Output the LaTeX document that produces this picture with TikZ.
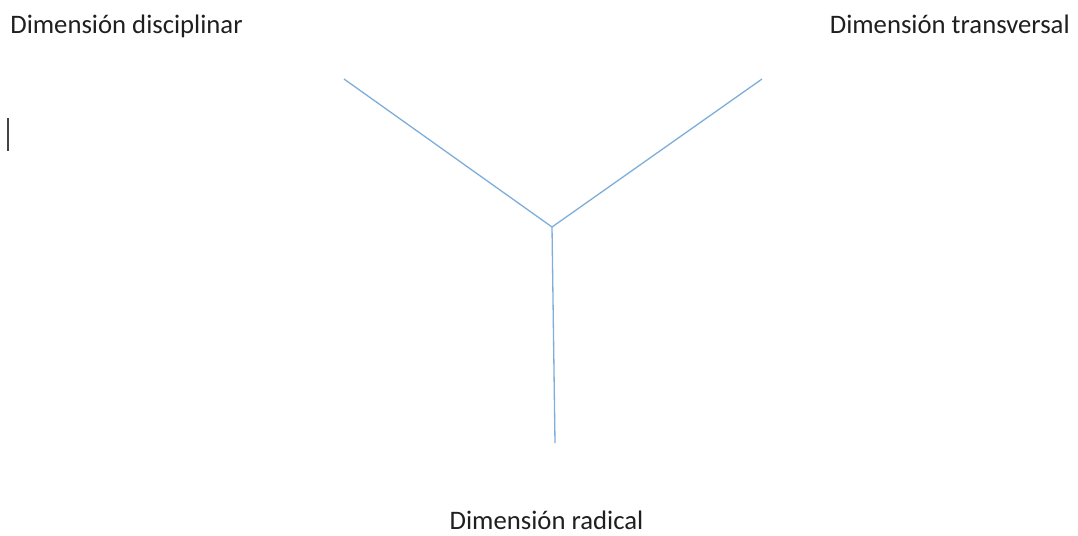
\documentclass[tikz,border=0pt]{standalone}
\usepackage{fontspec}
\setmainfont{Carlito}
\usetikzlibrary{positioning}
\definecolor{ink}    {HTML}{1F1F1F}
\definecolor{branch} {HTML}{7FAEDB}
\definecolor{caret}  {HTML}{444444}
\tikzset{
  dimlabel/.style={
    inner sep=0pt, text=ink, font=\fontsize{15.2}{18}\selectfont
  },
  dimline/.style={
    draw=branch, line width=0.75pt
  }
}

\begin{document}
\begin{tikzpicture}[x=0.02cm, y=-0.02cm]
    \useasboundingbox (0,0) rectangle (1078,535);
    \node[dimlabel, anchor=base west] (disc) at (10,33) {Dimensión disciplinar};
    \node[dimlabel, anchor=base east] (trans) at (1070,33) {Dimensión transversal};
    \node[dimlabel, anchor=base] (rad) at (546.5,529) {Dimensión radical};

    \coordinate (centro) at (552,227);
    \coordinate (extdisc) at (344,79);
    \coordinate (exttrans) at (762,79);
    \coordinate (extrad) at (555,443);

    \draw[dimline] (extdisc) -- (centro);
    \draw[dimline] (exttrans) -- (centro);
    \draw[dimline] (centro) -- (extrad);

    % cursor
    \coordinate (cursorA) at (8,118);
    \coordinate (cursorB) at (8,151);
    \draw[caret, line width=0.8pt] (cursorA) -- (cursorB);
  \end{tikzpicture}
\end{document}
